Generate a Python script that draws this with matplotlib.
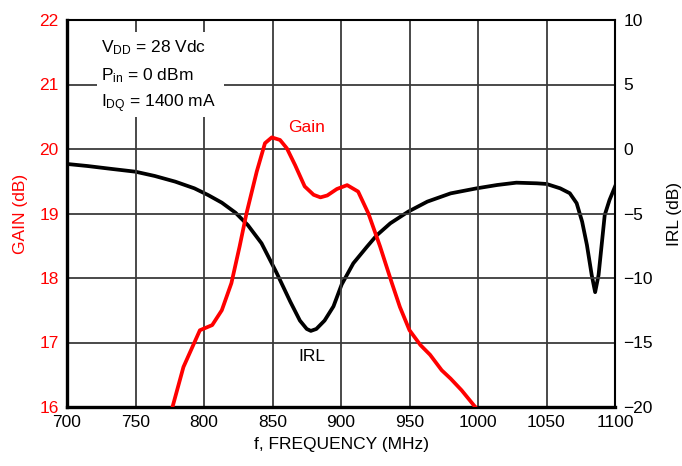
import matplotlib.pyplot as plt
import matplotlib.patches as mpatches

plt.rcParams['font.family'] = ['Liberation Sans', 'DejaVu Sans']
plt.rcParams['mathtext.fontset'] = 'custom'
plt.rcParams['mathtext.rm'] = 'Liberation Sans'
plt.rcParams['axes.unicode_minus'] = True

# gain curve (dB) vs frequency (MHz)
gain_f = [777, 785, 797, 806, 813, 820, 826, 831, 838.5, 844.5, 849.5, 855.5,
          860.5, 866.5, 873.5, 880, 885, 890, 897, 904.5, 912.5, 920, 928.5,
          937, 943, 950, 958, 965, 973.5, 980, 988, 998]
gain_db = [16.0, 16.62, 17.19, 17.27, 17.5, 17.92, 18.49, 19.0, 19.65, 20.09,
           20.18, 20.14, 20.01, 19.75, 19.42, 19.29, 19.25, 19.28, 19.38,
           19.44, 19.34, 19.0, 18.49, 17.93, 17.55, 17.19, 16.96, 16.81,
           16.57, 16.44, 16.26, 16.0]

# input return loss (dB) vs frequency (MHz)
irl_f = [700, 715, 733, 750, 764, 779, 793, 803, 813, 823, 832, 842, 853, 863,
         870, 875, 878, 882, 888, 894.5, 900.5, 909, 919, 926, 936, 949, 963,
         980, 999, 1014, 1028, 1043, 1050, 1060, 1067, 1072, 1076, 1079.5,
         1083, 1085.5, 1088, 1090.5, 1092.5, 1096, 1100]
irl_db = [-1.16, -1.32, -1.55, -1.76, -2.09, -2.53, -3.05, -3.57, -4.16, -4.94,
          -5.9, -7.31, -9.6, -11.84, -13.3, -13.95, -14.1, -13.95, -13.3,
          -12.2, -10.5, -8.86, -7.57, -6.7, -5.76, -4.86, -4.08, -3.44, -3.05,
          -2.79, -2.61, -2.66, -2.71, -3.05, -3.43, -4.2, -5.63, -7.44, -9.77,
          -11.1, -9.77, -7.19, -5.12, -3.95, -2.92]

x_ticks = [700, 750, 800, 850, 900, 950, 1000, 1050, 1100]
gain_ticks = [16, 17, 18, 19, 20, 21, 22]
irl_ticks = [-20, -15, -10, -5, 0, 5, 10]

red = '#ff0000'
grid_c = '#3a3a3a'

fig = plt.figure(figsize=(6.82, 4.66), dpi=100)
ax = fig.add_axes([67 / 682, 1 - 407 / 466, 548 / 682, 387 / 466])
ax2 = ax.twinx()

ax.set_xlim(700, 1100)
ax.set_ylim(16, 22)
ax2.set_ylim(-20, 10)

ax.set_xticks(x_ticks)
ax.set_yticks(gain_ticks)
ax2.set_yticks(irl_ticks)
ax.grid(True, color=grid_c, linewidth=1.3)
ax.tick_params(axis='both', length=0, labelsize=12.5, pad=6)
ax.tick_params(axis='y', colors=red)
ax2.tick_params(axis='y', length=0, labelsize=12.5, pad=6, colors='black')

for s in ['left', 'bottom']:
    ax.spines[s].set_linewidth(2.4)
for s in ['top', 'right']:
    ax.spines[s].set_linewidth(1.5)
for s in ax2.spines.values():
    s.set_visible(False)

# conditions box covers the grid behind it
ax.add_patch(mpatches.Rectangle((722, 20.5), 92.5, 1.31, facecolor='white',
                                edgecolor='none', zorder=2))
cond = ['$\\mathregular{V_{DD}}$ = 28 Vdc',
        '$\\mathregular{P_{in}}$ = 0 dBm',
        '$\\mathregular{I_{DQ}}$ = 1400 mA']
for i, t in enumerate(cond):
    ax.text(725, 21.57 - i * 0.43, t, fontsize=12.5, va='center', ha='left',
            zorder=3)

ax2.plot(irl_f, irl_db, color='black', linewidth=2.7, solid_joinstyle='round',
         zorder=4)
ax.plot(gain_f, gain_db, color=red, linewidth=2.7, solid_joinstyle='round',
        zorder=5)
ax.set_zorder(ax2.get_zorder() + 1)
ax.patch.set_visible(False)
ax2.patch.set_visible(True)

ax.text(875, 20.34, 'Gain', color=red, fontsize=12.5, ha='center', va='center')
ax.text(879, 16.78, 'IRL', color='black', fontsize=12.5, ha='center',
        va='center')

ax.set_xlabel('f, FREQUENCY (MHz)', fontsize=12.5, labelpad=5)
ax.set_ylabel('GAIN (dB)', color=red, fontsize=12.5, labelpad=8)
ax2.set_ylabel('IRL (dB)', fontsize=12.5, labelpad=10)

fig.savefig('out.png', dpi=100)
